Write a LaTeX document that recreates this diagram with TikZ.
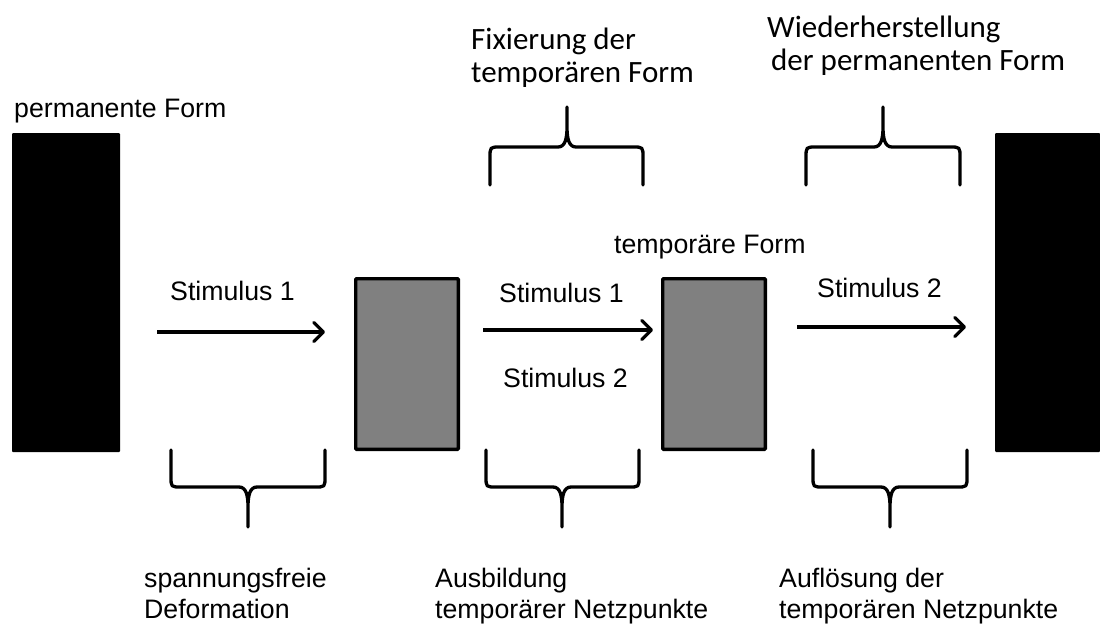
\documentclass[tikz,border=0pt]{standalone}
\usepackage{fontspec}
\setmainfont{Liberation Sans}
\newfontfamily\calibfont{Carlito}
\usetikzlibrary{arrows.meta}
\tikzset{
  lbl/.style={inner sep=0pt, font=\fontsize{26.7}{31}\selectfont},
  botlbl/.style={lbl, align=left, anchor=north west},
  toplbl/.style={inner sep=0pt, align=left, anchor=north west, font=\calibfont\fontsize{31}{33.5}\selectfont},
  blackblock/.style={fill=black, draw=none, rounded corners=1pt, minimum width=108pt, minimum height=319pt, inner sep=0pt},
  grayblock/.style={fill=gray, draw=black, line width=3.3pt, rounded corners=1pt, minimum width=102.7pt, minimum height=170.7pt, inner sep=0pt},
  stimarrow/.style={line width=3.3pt, -{Straight Barb[length=9.5pt,width=19pt,round]}},
  bracestyle/.style={line width=3.3pt, line cap=round, line join=round}
}
% #1 x-left, #2 x-right, #3 x-tip, #4 y arm end, #5 y bar, #6 y tip
\newcommand\mybrace[6]{%
  \draw[bracestyle] (#1,#4) -- (#1,{#5+0.28*(#4-#5)})
    .. controls (#1,#5) and (#1,#5) .. ({#1+10},#5)
    -- ({#3-9},#5)
    .. controls ({#3-2},#5) and (#3,{#5+0.2*(#6-#5)}) .. (#3,{#5+0.5*(#6-#5)})
    -- (#3,#6) -- (#3,{#5+0.5*(#6-#5)})
    .. controls (#3,{#5+0.2*(#6-#5)}) and ({#3+2},#5) .. ({#3+9},#5)
    -- ({#2-10},#5)
    .. controls (#2,#5) and (#2,#5) .. (#2,{#5+0.28*(#4-#5)})
    -- (#2,#4);}
\begin{document}
\begin{tikzpicture}[x=1pt,y=-1pt]
\useasboundingbox (0,0) rectangle (1100,624);
% blocks
\node[blackblock] (permL) at (66,292.5) {};
\node[blackblock, minimum width=105pt] (permR) at (1047.5,292.5) {};
\node[grayblock] (temp1) at (407,364) {};
\node[grayblock] (temp2) at (714,364) {};
% arrows
\coordinate (a1s) at (157,332); \coordinate (a1e) at (325,332);
\coordinate (a2s) at (483,330); \coordinate (a2e) at (653,330);
\coordinate (a3s) at (797,327); \coordinate (a3e) at (966,327);
\draw[stimarrow] (a1s) -- (a1e);
\draw[stimarrow] (a2s) -- (a2e);
\draw[stimarrow] (a3s) -- (a3e);
% labels
\node[lbl, anchor=base west] (permF) at (14,117) {permanente Form};
\node[lbl, anchor=base west] (stA) at (170,300) {Stimulus 1};
\node[lbl, anchor=base west] (stB) at (499,302) {Stimulus 1};
\node[lbl, anchor=base west] (stC) at (503,387) {Stimulus 2};
\node[lbl, anchor=base west] (stD) at (817,297) {Stimulus 2};
\node[lbl, anchor=base west] (tempF) at (614,253) {temporäre Form};
% braces
\mybrace{490}{643}{567}{185}{147}{107}
\mybrace{806}{960}{883}{185}{147}{107}
\mybrace{171}{325}{248}{450}{487}{527}
\mybrace{486}{639}{562}{450}{487}{527}
\mybrace{813}{967}{890}{450}{487}{527}
% brace texts
\node[toplbl] (fix) at (471,27.5) {Fixierung der\\temporären Form};
\node[toplbl] (wied) at (767,15.5) {Wiederherstellung\\\hspace*{4pt}der permanenten Form};
\node[botlbl] (spf) at (144,567.5) {spannungsfreie\\Deformation};
\node[botlbl] (ausb) at (435,567.5) {Ausbildung\\temporärer Netzpunkte};
\node[botlbl] (aufl) at (779,567.5) {Auflösung der\\temporären Netzpunkte};
\end{tikzpicture}
\end{document}
